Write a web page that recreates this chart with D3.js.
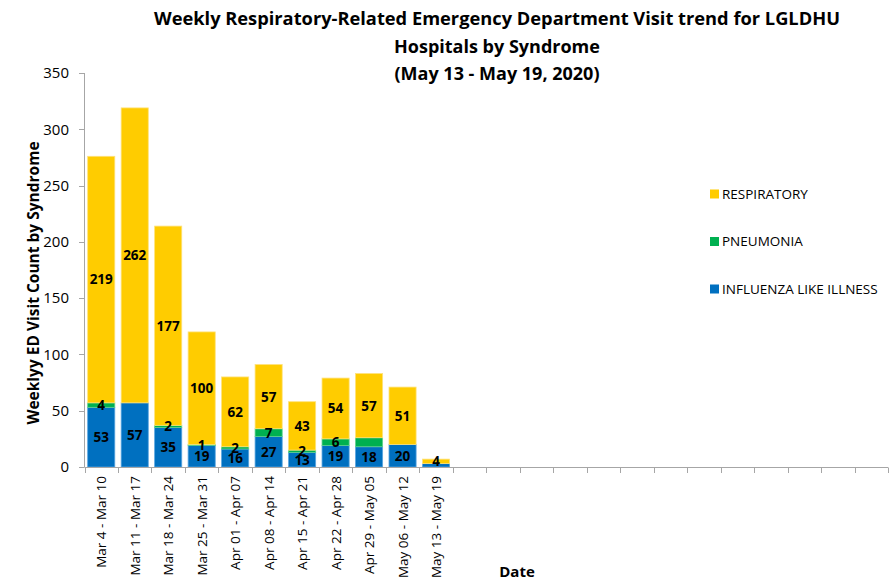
<!DOCTYPE html>
<html><head><meta charset="utf-8">
<script src="https://cdn.jsdelivr.net/npm/d3@7"></script>
<style>body{margin:0;background:#fff}svg{display:block}</style>
</head><body>
<svg id="c" width="896" height="581"></svg>
<script>
const categories = ["Mar 4 - Mar 10","Mar 11 - Mar 17","Mar 18 - Mar 24","Mar 25 - Mar 31","Apr 01 - Apr 07","Apr 08 - Apr 14","Apr 15 - Apr 21","Apr 22 - Apr 28","Apr 29 - May 05","May 06 - May 12","May 13 - May 19"];
const slotCount = 24;
const influenza = [53,57,35,19,16,27,13,19,18,20,3];
const pneumonia = [4,0,2,1,2,7,2,6,8,0,0];
const respiratory = [219,262,177,100,62,57,43,54,57,51,4];
const showInfluenzaLabel = [1,1,1,1,1,1,1,1,1,1,0];
const showPneumoniaLabel = [1,0,1,1,1,1,1,1,0,0,0];
const showRespiratoryLabel = [1,1,1,1,1,1,1,1,1,1,1];
const yTicks = [0,50,100,150,200,250,300,350];
const seriesNames = ["INFLUENZA LIKE ILLNESS","PNEUMONIA","RESPIRATORY"];
const colors = ["#0070C0","#00B050","#FFCC00"];
const strokes = ["#5aa6e0","#5fd08f","#ffe27a"];
const titleLines = ["Weekly Respiratory-Related Emergency Department Visit trend for LGLDHU","Hospitals by Syndrome","(May 13 - May 19, 2020)"];

const svg = d3.select("#c");
const font = "'Open Sans', 'DejaVu Sans', sans-serif";

const x = d3.scaleBand().domain(d3.range(slotCount)).range([84.5, 888]).paddingInner(0.19).paddingOuter(0.095);
const y = d3.scaleLinear().domain([0,350]).range([467, 73]);

const rows = categories.map((c,i)=>({i, v:[influenza[i], pneumonia[i], respiratory[i]], show:[showInfluenzaLabel[i], showPneumoniaLabel[i], showRespiratoryLabel[i]]}));
const segs = [];
rows.forEach(r=>{
  let base = 0;
  r.v.forEach((v,s)=>{ segs.push({i:r.i, s, y0:base, y1:base+v, v, show:r.show[s]}); base += v; });
});

svg.append("g").selectAll("rect").data(segs.filter(d=>d.v>0)).join("rect")
  .attr("x", d=>x(d.i)).attr("width", x.bandwidth())
  .attr("y", d=>y(d.y1)).attr("height", d=>y(d.y0)-y(d.y1))
  .attr("fill", d=>colors[d.s]).attr("stroke", d=>strokes[d.s]).attr("stroke-width", 0.8);

svg.append("g").selectAll("text").data(segs.filter(d=>d.show && d.v>0)).join("text")
  .attr("x", d=>x(d.i)+x.bandwidth()/2)
  .attr("y", d=>(y(d.y0)+y(d.y1))/2)
  .attr("dy","0.36em").attr("text-anchor","middle")
  .attr("font-family", font).attr("font-weight","bold").attr("font-size","13.5px").attr("fill","#000")
  .text(d=>d.v);

const axisColor = "#a6a6a6";
const gy = svg.append("g");
gy.append("line").attr("x1",84.5).attr("x2",84.5).attr("y1",y(350)).attr("y2",y(0)).attr("stroke",axisColor);
gy.selectAll("line.t").data(yTicks).join("line").attr("class","t")
  .attr("x1",79).attr("x2",84.5).attr("y1",d=>Math.round(y(d))+0.5).attr("y2",d=>Math.round(y(d))+0.5).attr("stroke",axisColor);
gy.selectAll("text").data(yTicks).join("text")
  .attr("x",69).attr("y",d=>y(d)).attr("dy","0.35em").attr("text-anchor","end")
  .attr("font-family",font).attr("font-size","15px").attr("fill","#000").text(d=>d);

const gx = svg.append("g");
gx.append("line").attr("x1",84.5).attr("x2",888).attr("y1",467.5).attr("y2",467.5).attr("stroke",axisColor);
const bounds = d3.range(slotCount+1).map(k=>84.5 + k*x.step());
gx.selectAll("line.t").data(bounds).join("line").attr("class","t")
  .attr("x1",d=>Math.round(d)+0.5).attr("x2",d=>Math.round(d)+0.5).attr("y1",467.5).attr("y2",473).attr("stroke",axisColor);
gx.selectAll("text").data(categories).join("text")
  .attr("transform",(d,i)=>`translate(${x(i)+x.bandwidth()/2+5},476) rotate(-90)`)
  .attr("text-anchor","end")
  .attr("font-family",font).attr("font-size","13.5px").attr("fill","#000").text(d=>d);

svg.append("text").attr("transform","translate(39,283) rotate(-90)").attr("text-anchor","middle")
  .attr("font-family",font).attr("font-weight","bold").attr("font-size","15.5px").attr("fill","#000")
  .text("Weeklyy ED Visit Count by Syndrome");
svg.append("text").attr("x",517).attr("y",577).attr("text-anchor","middle")
  .attr("font-family",font).attr("font-weight","bold").attr("font-size","15px").attr("fill","#000").text("Date");

svg.append("g").selectAll("text").data(titleLines).join("text")
  .attr("x",497).attr("y",(d,i)=>25+i*27.5).attr("text-anchor","middle")
  .attr("font-family",font).attr("font-weight","bold").attr("font-size","18px").attr("fill","#000")
  .text(d=>d)
  .each(function(d,i){ if(i===0){ d3.select(this).attr("textLength",686).attr("lengthAdjust","spacingAndGlyphs"); } });

const legOrder = [2,1,0];
const lg = svg.append("g");
legOrder.forEach((s,k)=>{
  const ly = 194 + k*47.5;
  lg.append("rect").attr("x",710).attr("y",ly-4.5).attr("width",9).attr("height",9).attr("fill",colors[s]);
  lg.append("text").attr("x",722).attr("y",ly).attr("dy","0.36em")
    .attr("font-family",font).attr("font-size","13.5px").attr("fill","#000").text(seriesNames[s]);
});
</script>
</body></html>
